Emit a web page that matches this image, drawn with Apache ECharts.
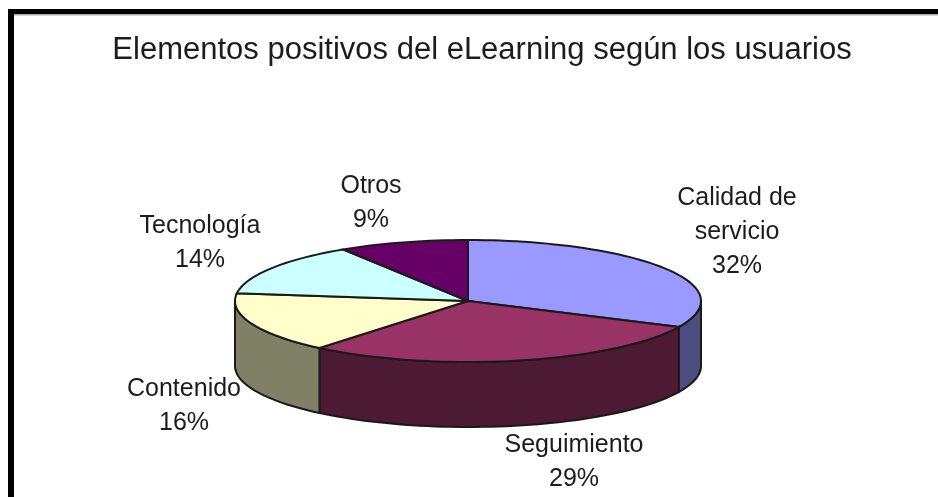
<!DOCTYPE html>
<html>
<head>
<meta charset="utf-8">
<style>
  html, body { margin: 0; padding: 0; background: #fff; }
  #chart { width: 938px; height: 497px; }
</style>
<script src="https://cdn.jsdelivr.net/npm/echarts@6/dist/echarts.min.js"></script>
</head>
<body>
<div id="chart"></div>
<script>
const categories = ['Calidad de\nservicio', 'Seguimiento', 'Contenido', 'Tecnología', 'Otros'];
const shares = [32, 29, 16, 14, 9];

const topColors = ['#9999FF', '#993366', '#FFFFCC', '#CCFFFF', '#660066'];
const sideColors = ['#4D4D80', '#4D1A33', '#808066', '#668080', '#330033'];
const labelAnchors = [[737, 232], [574, 462], [184, 406], [200, 243], [371, 203]];

// pie geometry, squashed by hand because ECharts has no 3d pie
const cx = 468, cy = 301, rx = 233, ry = 61, depth = 65;
const total = shares.reduce((a, b) => a + b, 0);
const outline = '#1a1a1a';

function rim(deg, drop) {
  const t = deg * Math.PI / 180;
  return [cx + rx * Math.sin(t), cy - ry * Math.cos(t) + (drop || 0)];
}

function arc(from, to, drop) {
  const pts = [];
  const n = Math.max(2, Math.ceil(Math.abs(to - from) / 2));
  for (let i = 0; i <= n; i++) pts.push(rim(from + (to - from) * i / n, drop));
  return pts;
}

function renderSlice(params, api) {
  const i = api.value(0);
  const before = shares.slice(0, i).reduce((a, b) => a + b, 0);
  const start = before / total * 360;
  const end = start + api.value(1) / total * 360;
  const children = [];

  // only the front half of the rim shows a wall
  const wallFrom = Math.max(start, 90), wallTo = Math.min(end, 270);
  if (wallTo > wallFrom) {
    const wall = arc(wallFrom, wallTo, 0).concat(arc(wallTo, wallFrom, depth));
    children.push({
      type: 'polygon',
      shape: { points: wall },
      style: { fill: sideColors[i], stroke: outline, lineWidth: 2 }
    });
  }
  children.push({
    type: 'polygon',
    shape: { points: [[cx, cy]].concat(arc(start, end, 0)) },
    style: { fill: topColors[i], stroke: outline, lineWidth: 2 }
  });
  children.push({
    type: 'text',
    x: labelAnchors[i][0],
    y: labelAnchors[i][1],
    style: {
      text: categories[i] + '\n' + api.value(1) + '%',
      fill: '#1c1c1c',
      font: '25px "Liberation Sans", Arial, sans-serif',
      lineHeight: 34,
      align: 'center',
      verticalAlign: 'middle'
    }
  });
  return { type: 'group', children: children };
}

const chart = echarts.init(document.getElementById('chart'), null, { renderer: 'canvas' });
chart.setOption({
  animation: false,
  backgroundColor: '#fff',
  title: {
    text: 'Elementos positivos del eLearning según los usuarios',
    left: 477,
    top: 45,
    textAlign: 'center',
    textVerticalAlign: 'middle',
    textStyle: {
      fontFamily: '"Liberation Sans", Arial, sans-serif',
      fontWeight: 'normal',
      fontSize: 31,
      color: '#1c1c1c'
    }
  },
  graphic: [
    { type: 'rect', shape: { x: 14, y: 14, width: 924, height: 1.5 }, style: { fill: '#aaa' } },
    { type: 'rect', shape: { x: 8, y: 9, width: 930, height: 5 }, style: { fill: '#000' } },
    { type: 'rect', shape: { x: 8, y: 9, width: 6, height: 488 }, style: { fill: '#000' } }
  ],
  series: [{
    type: 'custom',
    coordinateSystem: 'none',
    renderItem: renderSlice,
    encode: { value: 1 },
    data: shares.map((v, i) => [i, v])
  }]
});
</script>
</body>
</html>
